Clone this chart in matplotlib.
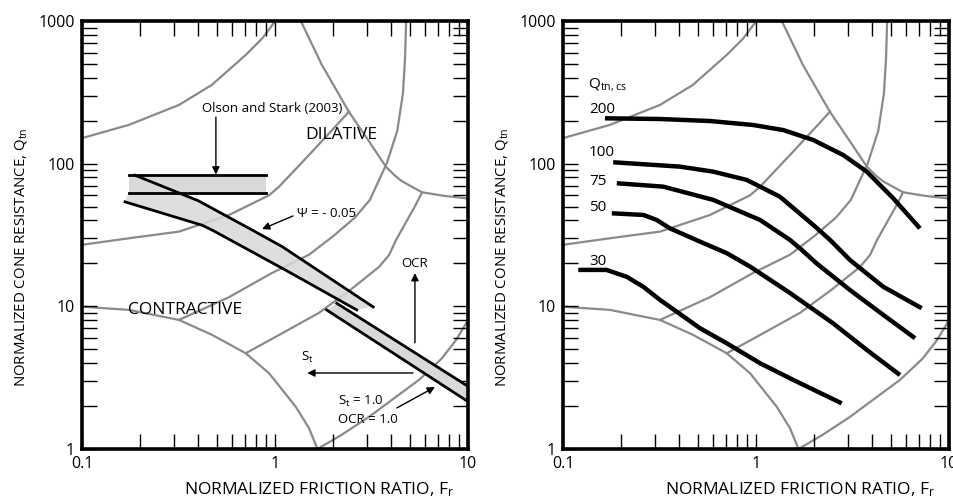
import matplotlib
matplotlib.use('Agg')
import matplotlib.pyplot as plt
from matplotlib.ticker import FuncFormatter, NullFormatter

plt.rcParams['font.family'] = ['Open Sans', 'DejaVu Sans']
plt.rcParams['mathtext.default'] = 'regular'

# grey soil-behaviour-type boundaries (Fr %, Qtn), same on both panels
zone1_fr = [0.1, 0.175, 0.318, 0.473, 0.705, 0.931, 1.28, 1.5, 1.66]
zone1_q = [9.95, 9.44, 8.03, 6.3, 4.69, 3.4, 1.98, 1.4, 1.0]
zone2_fr = [1.66, 2.2, 3.07, 4.2, 5.57, 7.3, 8.67, 10]
zone2_q = [1.0, 1.25, 1.68, 2.3, 3.05, 4.3, 5.8, 8.0]
b67_fr = [0.1, 0.175, 0.318, 0.47, 0.705, 0.86, 0.968, 1.01]
b67_q = [151, 187, 258, 356, 578, 757, 937, 1000]
b56_fr = [0.1, 0.175, 0.318, 0.578, 0.931, 1.05, 1.5, 2.0, 2.42]
b56_q = [27, 30, 33.4, 43.7, 60, 69, 115, 175, 232]
b89_fr = [1.36, 1.75, 2.42, 3.0, 3.76, 4.2, 4.57, 5.78, 7.5, 10]
b89_q = [1000, 492, 230, 150, 95, 82, 75, 63, 59.5, 57]
b45_fr = [0.318, 0.578, 0.955, 1.5, 2.0, 2.6, 3.1, 3.8, 4.3, 4.6, 4.72, 4.78]
b45_q = [8.03, 11.6, 17, 23, 31, 42, 55.7, 101, 170, 310, 550, 1000]
b34_fr = [0.705, 0.94, 1.69, 2.45, 3.46, 3.9, 4.24, 4.78, 5.3, 5.78]
b34_q = [4.69, 5.8, 9.0, 13, 18.9, 22.9, 29.2, 39, 50, 63]

# left panel: Olson & Stark band and state-parameter bands
olson_fr = [0.175, 0.90]
olson_top = [83, 83]
olson_bot = [62, 62]
psi_up_fr = [0.188, 0.4, 0.77, 1.09, 1.465, 3.23]
psi_up_q = [83, 55, 34, 26.2, 20.1, 9.9]
psi_lo_fr = [0.167, 0.42, 0.477, 1.13, 2.65]
psi_lo_q = [54, 37, 34, 18, 9.44]
st_up_fr = [2.09, 10]
st_up_q = [10.5, 2.75]
st_lo_fr = [1.85, 10]
st_lo_q = [9.44, 2.15]

# right panel: contours of Qtn,cs
qcs_labels = ['200', '100', '75', '50', '30']
qcs_label_q = [238, 119, 74.5, 49, 20.5]
c200_fr = [0.165, 0.318, 0.578, 0.968, 1.385, 1.98, 2.83, 3.75, 5.14, 7.07]
c200_q = [208, 205.6, 199, 186.6, 172, 146.5, 115, 87.9, 57.2, 35.2]
c100_fr = [0.182, 0.404, 0.601, 0.895, 1.33, 1.98, 2.42, 3.07, 4.57, 7.22]
c100_q = [102.3, 95.3, 87.9, 76.9, 58.7, 37.2, 29.2, 21.1, 13.7, 9.7]
c75_fr = [0.19, 0.331, 0.601, 1.05, 1.5, 1.73, 2.06, 3.07, 4.57, 6.67]
c75_q = [72.9, 69, 55.7, 40.3, 29.2, 24.8, 20.0, 13.0, 8.7, 5.98]
c50_fr = [0.179, 0.261, 0.306, 0.358, 0.513, 0.705, 0.931, 1.5, 2.51, 3.75, 5.57]
c50_q = [44.9, 43.7, 40.3, 35.2, 28.4, 23.6, 19.0, 12.4, 7.6, 4.95, 3.3]
c30_fr = [0.12, 0.168, 0.214, 0.261, 0.318, 0.388, 0.513, 0.705, 1.05, 1.56, 2.78]
c30_q = [18.0, 18.0, 16.1, 13.7, 11.1, 9.18, 7.02, 5.51, 3.99, 3.05, 2.09]

GREY = '#8a8a8a'
FILL = '#d9d9d9'


def setup_axes(ax):
    ax.set_xscale('log')
    ax.set_yscale('log')
    ax.set_xlim(0.1, 10)
    ax.set_ylim(1, 1000)
    for s in ax.spines.values():
        s.set_linewidth(2.6)
    ax.tick_params(which='both', direction='in', top=True, right=True,
                   length=11, width=1.0, labelsize=11.5, pad=5)
    fmt = FuncFormatter(lambda v, p: f'{v:g}')
    ax.xaxis.set_major_formatter(fmt)
    ax.yaxis.set_major_formatter(fmt)
    ax.xaxis.set_minor_formatter(NullFormatter())
    ax.yaxis.set_minor_formatter(NullFormatter())
    ax.set_xlabel('NORMALIZED FRICTION RATIO, F$_r$', fontsize=12.5)
    ax.xaxis.set_label_coords(0.614, -0.073)
    ax.set_ylabel('NORMALIZED CONE RESISTANCE, Q$_{tn}$', fontsize=10.8)
    ax.yaxis.set_label_coords(-0.138, 0.449)
    for fr, q in [(zone1_fr, zone1_q), (zone2_fr, zone2_q), (b67_fr, b67_q),
                  (b56_fr, b56_q), (b89_fr, b89_q), (b45_fr, b45_q),
                  (b34_fr, b34_q)]:
        ax.plot(fr, q, color=GREY, lw=1.6, zorder=1, solid_joinstyle='round')


fig = plt.figure(figsize=(9.54, 4.99), dpi=100)
ax1 = fig.add_axes([82 / 954, 50 / 499, 386 / 954, 428 / 499])
ax2 = fig.add_axes([563 / 954, 50 / 499, 386 / 954, 428 / 499])
setup_axes(ax1)
setup_axes(ax2)

# ---- left panel ----
ax1.fill_between(olson_fr, olson_bot, olson_top, color=FILL, lw=0, zorder=2)
ax1.plot(olson_fr, olson_top, color='k', lw=2.0, zorder=4)
ax1.plot(olson_fr, olson_bot, color='k', lw=2.0, zorder=4)

ax1.fill(psi_up_fr + psi_lo_fr[::-1], psi_up_q + psi_lo_q[::-1],
         color=FILL, lw=0, zorder=2, alpha=0.85)
ax1.plot(psi_up_fr, psi_up_q, color='k', lw=2.0, zorder=4, solid_joinstyle='round')
ax1.plot(psi_lo_fr, psi_lo_q, color='k', lw=2.0, zorder=4, solid_joinstyle='round')

ax1.fill(st_up_fr + st_lo_fr[::-1], st_up_q + st_lo_q[::-1],
         color=FILL, lw=0, zorder=2)
ax1.plot(st_up_fr, st_up_q, color='k', lw=2.0, zorder=4)
ax1.plot(st_lo_fr, st_lo_q, color='k', lw=2.0, zorder=4)

arrow = dict(arrowstyle='-|>', color='k', lw=1.0, mutation_scale=11,
             shrinkA=0, shrinkB=0)
ax1.text(0.967, 245, 'Olson and Stark (2003)', fontsize=9.5, ha='center', va='center')
ax1.annotate('', xy=(0.494, 84), xytext=(0.494, 212), arrowprops=arrow)
ax1.text(2.2, 159, 'DILATIVE', fontsize=12.5, ha='center', va='center')
ax1.text(0.342, 9.44, 'CONTRACTIVE', fontsize=12.5, ha='center', va='center')
ax1.text(1.30, 45, '\u03a8 = - 0.05', fontsize=9.5, ha='left', va='center')
ax1.annotate('', xy=(0.857, 34.8), xytext=(1.24, 43), arrowprops=arrow)
ax1.text(5.3, 20.1, 'OCR', fontsize=9.5, ha='center', va='center')
ax1.annotate('', xy=(5.31, 17.1), xytext=(5.31, 5.55), arrowprops=arrow)
ax1.text(1.47, 4.35, 'S$_t$', fontsize=9.5, ha='center', va='center')
ax1.annotate('', xy=(1.47, 3.41), xytext=(5.19, 3.41), arrowprops=arrow)
ax1.text(2.12, 2.14, 'S$_t$ = 1.0', fontsize=9.5, ha='left', va='center')
ax1.text(2.12, 1.6, 'OCR = 1.0', fontsize=9.5, ha='left', va='center')
ax1.annotate('', xy=(6.74, 2.72), xytext=(4.28, 1.94), arrowprops=arrow)

# ---- right panel ----
for fr, q in [(c200_fr, c200_q), (c100_fr, c100_q), (c75_fr, c75_q),
              (c50_fr, c50_q), (c30_fr, c30_q)]:
    ax2.plot(fr, q, color='k', lw=3.2, zorder=4, solid_capstyle='butt',
             solid_joinstyle='round')
ax2.text(0.135, 356, 'Q$_{tn,cs}$', fontsize=11, ha='left', va='center')
for lab, q in zip(qcs_labels, qcs_label_q):
    ax2.text(0.1365, q, lab, fontsize=11, ha='left', va='center')

fig.savefig('out.png', dpi=100)
